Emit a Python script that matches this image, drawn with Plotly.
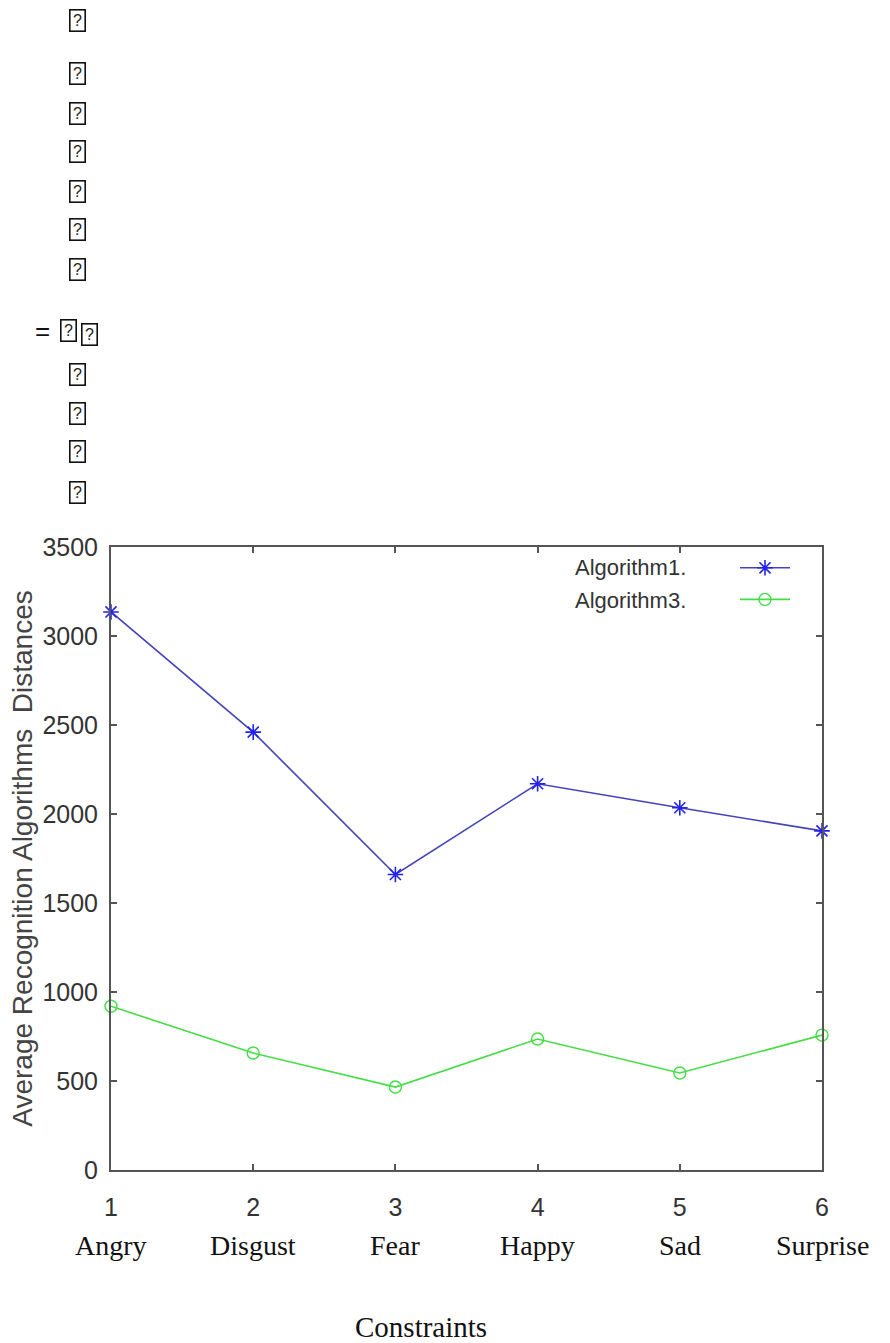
import plotly.graph_objects as go

# ---- data ----
x_values = [1, 2, 3, 4, 5, 6]
categories = ["Angry", "Disgust", "Fear", "Happy", "Sad", "Surprise"]
algorithm1 = [3135, 2460, 1660, 2170, 2035, 1905]
algorithm3 = [920, 657, 466, 736, 545, 758]
series_names = ["Algorithm1.", "Algorithm3."]
y_ticks = [0, 500, 1000, 1500, 2000, 2500, 3000, 3500]

W, H = 890, 1343
L, R, T, B = 111, 822, 547, 1170


def px(xp):
    return (xp - L) / (R - L)


def py(yp):
    return (B - yp) / (B - T)


fig = go.Figure()
fig.add_trace(go.Scatter(
    x=x_values, y=algorithm1, name=" ", mode="lines+markers",
    line=dict(color="#4444bb", width=1.6),
    marker=dict(symbol="asterisk-open", size=13, color="#2222ee",
                line=dict(color="#2222ee", width=1.6)),
    cliponaxis=False,
))
fig.add_trace(go.Scatter(
    x=x_values, y=algorithm3, name="  ", mode="lines+markers",
    line=dict(color="#44dd44", width=1.6),
    marker=dict(symbol="circle-open", size=12, color="#44dd44",
                line=dict(color="#44dd44", width=1.4)),
    cliponaxis=False,
))

annotations = []
# legend labels (text on left of samples)
for name, yy in zip(series_names, [567, 600]):
    annotations.append(dict(
        x=px(688), y=py(yy), xref="paper", yref="paper", text=name,
        showarrow=False, xanchor="right", yanchor="middle",
        font=dict(family="Liberation Sans, Arial", size=22, color="#333333"),
    ))
# category names under numeric ticks
for xv, cat in zip(x_values, categories):
    annotations.append(dict(
        x=xv, y=py(1245), xref="x", yref="paper", text=cat,
        showarrow=False, xanchor="center", yanchor="middle",
        font=dict(family="Liberation Serif, Times New Roman", size=28, color="#111111"),
    ))
# x axis title
annotations.append(dict(
    x=px(421), y=py(1327), xref="paper", yref="paper", text="Constraints",
    showarrow=False, xanchor="center", yanchor="middle",
    font=dict(family="Liberation Serif, Times New Roman", size=29, color="#111111"),
))
# missing-glyph boxes at the top of the page
box_font = dict(family="Liberation Sans, Arial", size=16, color="#222222")
box_rows = [20, 73, 113, 152, 191, 230, 269, 374, 413, 452, 492]
for yy in box_rows:
    annotations.append(dict(
        x=px(77), y=py(yy), xref="paper", yref="paper", text="?",
        showarrow=False, xanchor="center", yanchor="middle",
        width=14, height=20, borderpad=0, bordercolor="#111111", borderwidth=1.6,
        font=box_font,
    ))
annotations.append(dict(
    x=px(42), y=py(331), xref="paper", yref="paper", text="=",
    showarrow=False, xanchor="center", yanchor="middle",
    font=dict(family="Liberation Sans, Arial", size=26, color="#111111"),
))
for xx, yy in [(68, 330), (89, 334)]:
    annotations.append(dict(
        x=px(xx), y=py(yy), xref="paper", yref="paper", text="?",
        showarrow=False, xanchor="center", yanchor="middle",
        width=14, height=20, borderpad=0, bordercolor="#111111", borderwidth=1.6,
        font=box_font,
    ))

axis_common = dict(
    showline=True, linecolor="#555555", linewidth=2, mirror="ticks",
    ticks="inside", ticklen=6, tickwidth=1.5, tickcolor="#555555",
    showgrid=False, zeroline=False,
    tickfont=dict(family="Liberation Sans, Arial", size=25, color="#333333"),
)

fig.update_layout(
    width=W, height=H,
    margin=dict(l=L, r=W - R, t=T, b=H - B, pad=0),
    paper_bgcolor="white", plot_bgcolor="white",
    xaxis=dict(range=[1, 6], tickvals=x_values, ticktext=[str(v) for v in x_values],
               ticklabelstandoff=14, **axis_common),
    yaxis=dict(range=[0, 3500], tickvals=y_ticks, ticklabelstandoff=6,
               title=dict(text="Average Recognition Algorithms  Distances",
                          font=dict(family="Liberation Sans, Arial", size=28, color="#444444"),
                          standoff=2),
               **axis_common),
    showlegend=True,
    legend=dict(x=px(735), y=py(547), xanchor="left", yanchor="top",
                bgcolor="rgba(0,0,0,0)", borderwidth=0,
                font=dict(family="Liberation Sans, Arial", size=22),
                itemwidth=50, tracegroupgap=0),
    annotations=annotations,
)

fig.write_html("out.html")
